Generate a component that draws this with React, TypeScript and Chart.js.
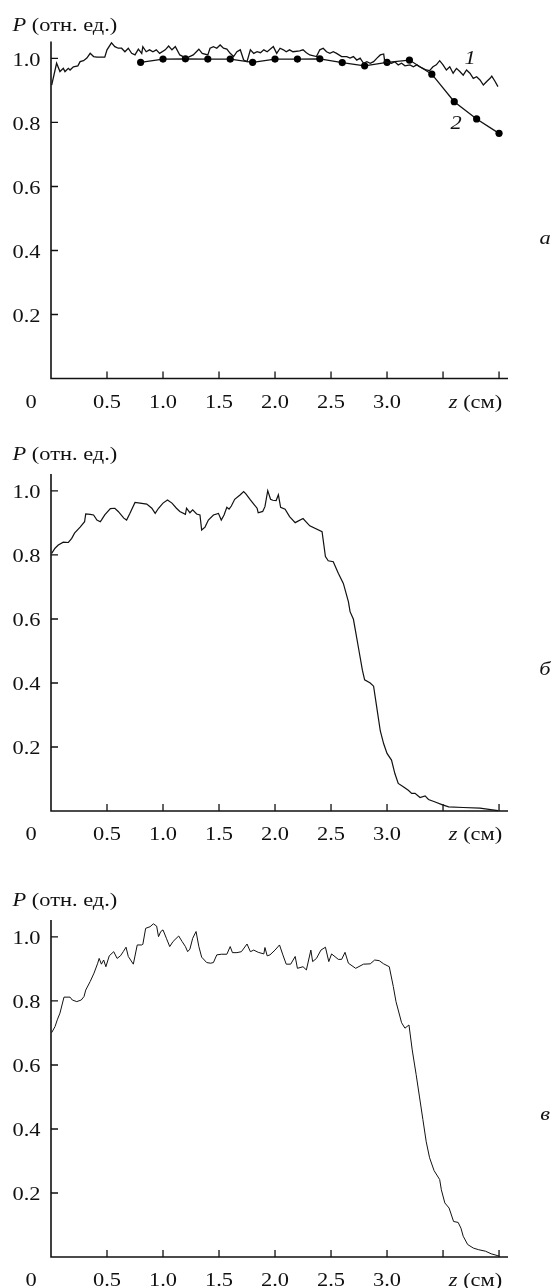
import React, { useEffect, useRef } from "react";
import { Chart, registerables } from "chart.js";

Chart.register(...registerables);

// ---------- axes ----------
const X_MIN = 0;
const X_MAX = 4.08;
const Y_MIN = 0;
const Y_MAX = 1.053;
const xTickValues = [0.5, 1.0, 1.5, 2.0, 2.5, 3.0, 3.5, 4.0];
const xTickLabels = ["0.5", "1.0", "1.5", "2.0", "2.5", "3.0", "", ""];
const yTickValues = [0.2, 0.4, 0.6, 0.8, 1.0];
const yTickLabels = ["0.2", "0.4", "0.6", "0.8", "1.0"];
const originLabel = "0";
const xAxisTitleItalic = "z";
const xAxisTitleRest = " (см)";
const yAxisTitleItalic = "P";
const yAxisTitleRest = " (отн. ед.)";
const panelLetters = ["а", "б", "в"];
const curveLabels = ["1", "2"];

// ---------- panel a, curve 1 ----------
const aCurve1X = [
  0.006, 0.05, 0.08, 0.11, 0.125, 0.155, 0.17, 0.2, 0.24, 0.26, 0.29, 0.32, 0.35, 0.38, 0.41, 0.48,
  0.5, 0.54, 0.57, 0.6, 0.63, 0.66, 0.69, 0.72, 0.75, 0.78, 0.81, 0.82, 0.85, 0.88, 0.91, 0.94,
  0.97, 1.02, 1.05, 1.08, 1.11, 1.15, 1.18, 1.21, 1.27, 1.32, 1.35, 1.4, 1.42, 1.45, 1.48, 1.51,
  1.54, 1.57, 1.6, 1.63, 1.66, 1.69, 1.72, 1.75, 1.78, 1.81, 1.84, 1.87, 1.9, 1.93, 1.985, 2.015,
  2.045, 2.075, 2.1, 2.13, 2.16, 2.22, 2.25, 2.28, 2.31, 2.37, 2.4, 2.43, 2.46, 2.49, 2.52, 2.55,
  2.595, 2.64, 2.67, 2.7, 2.73, 2.76, 2.79, 2.82, 2.85, 2.88, 2.91, 2.94, 2.97, 2.98, 3.01, 3.04,
  3.07, 3.1, 3.13, 3.16, 3.205, 3.235, 3.265, 3.29, 3.32, 3.35, 3.38, 3.41, 3.44, 3.47, 3.5, 3.53,
  3.56, 3.59, 3.62, 3.65, 3.68, 3.71, 3.74, 3.77, 3.8, 3.83, 3.86, 3.89, 3.92, 3.935, 3.965, 3.99,
];
const aCurve1Y = [
  0.917, 0.985, 0.959, 0.969, 0.959, 0.969, 0.964, 0.974, 0.977, 0.99, 0.993, 1.001, 1.016, 1.006, 1.004, 1.004,
  1.027, 1.049, 1.037, 1.032, 1.032, 1.021, 1.032, 1.016, 1.011, 1.029, 1.016, 1.037, 1.021, 1.027, 1.021, 1.027,
  1.016, 1.027, 1.039, 1.027, 1.037, 1.011, 1.006, 1.001, 1.011, 1.029, 1.016, 1.011, 1.032, 1.037, 1.032, 1.042,
  1.032, 1.029, 1.016, 1.006, 1.021, 1.027, 0.995, 0.99, 1.027, 1.016, 1.021, 1.018, 1.027, 1.021, 1.037, 1.016,
  1.032, 1.027, 1.021, 1.027, 1.021, 1.024, 1.027, 1.018, 1.011, 1.006, 1.027, 1.032, 1.021, 1.016, 1.021, 1.016,
  1.006, 1.006, 1.001, 1.006, 0.995, 1.001, 0.985, 0.99, 0.985, 0.99, 1.001, 1.011, 1.014, 0.99, 0.987, 0.985,
  0.99, 0.98, 0.985, 0.977, 0.98, 0.974, 0.98, 0.974, 0.969, 0.964, 0.962, 0.974, 0.98, 0.993, 0.98, 0.964,
  0.974, 0.954, 0.969, 0.959, 0.948, 0.964, 0.954, 0.938, 0.943, 0.933, 0.917, 0.928, 0.938, 0.945, 0.928, 0.912,
];

// ---------- panel a, curve 2 (dots) ----------
const aCurve2X = [0.8, 1.0, 1.2, 1.4, 1.6, 1.8, 2.0, 2.2, 2.4, 2.6, 2.8, 3.0, 3.2, 3.4, 3.6, 3.8, 4.0];
const aCurve2Y = [0.988, 0.998, 0.999, 0.998, 0.998, 0.988, 0.998, 0.998, 0.999, 0.987, 0.977, 0.988, 0.995, 0.951, 0.865, 0.811, 0.766];

// ---------- panel б ----------
const bCurveX = [
  0.006, 0.036, 0.065, 0.11, 0.155, 0.185, 0.21, 0.26, 0.3, 0.31, 0.35, 0.38, 0.41, 0.44, 0.45, 0.48,
  0.53, 0.57, 0.6, 0.65, 0.675, 0.705, 0.75, 0.795, 0.855, 0.9, 0.93, 0.96, 1.0, 1.04, 1.08, 1.12,
  1.15, 1.2, 1.21, 1.24, 1.265, 1.3, 1.33, 1.345, 1.375, 1.405, 1.45, 1.495, 1.52, 1.545, 1.57, 1.59,
  1.61, 1.64, 1.69, 1.72, 1.74, 1.78, 1.81, 1.84, 1.85, 1.89, 1.91, 1.935, 1.96, 1.98, 2.01, 2.03,
  2.05, 2.09, 2.13, 2.18, 2.25, 2.31, 2.42, 2.45, 2.475, 2.52, 2.565, 2.61, 2.655, 2.67, 2.7, 2.72,
  2.75, 2.78, 2.8, 2.85, 2.88, 2.91, 2.94, 2.97, 3.0, 3.04, 3.07, 3.1, 3.145, 3.19, 3.22, 3.25,
  3.295, 3.34, 3.37, 3.43, 3.49, 3.55, 3.68, 3.83, 3.99,
];
const bCurveY = [
  0.805, 0.821, 0.831, 0.84, 0.839, 0.852, 0.868, 0.887, 0.904, 0.928, 0.927, 0.925, 0.909, 0.904, 0.909, 0.925,
  0.945, 0.946, 0.936, 0.915, 0.909, 0.93, 0.964, 0.962, 0.959, 0.946, 0.93, 0.946, 0.962, 0.972, 0.962, 0.946,
  0.936, 0.927, 0.946, 0.932, 0.941, 0.928, 0.925, 0.878, 0.887, 0.909, 0.925, 0.93, 0.909, 0.925, 0.949, 0.943,
  0.953, 0.974, 0.988, 0.998, 0.991, 0.972, 0.959, 0.946, 0.932, 0.936, 0.951, 1.001, 0.974, 0.971, 0.97, 0.988,
  0.949, 0.943, 0.92, 0.901, 0.914, 0.891, 0.873, 0.795, 0.782, 0.779, 0.743, 0.711, 0.654, 0.623, 0.599, 0.56,
  0.5, 0.44, 0.41, 0.4, 0.39, 0.32, 0.25, 0.21, 0.18, 0.159, 0.117, 0.086, 0.076, 0.065, 0.055, 0.055,
  0.042, 0.047, 0.036, 0.028, 0.02, 0.013, 0.011, 0.009, 0.001,
];

// ---------- panel в ----------
const cCurveX = [
  0.006, 0.036, 0.056, 0.08, 0.116, 0.17, 0.19, 0.23, 0.27, 0.295, 0.31, 0.35, 0.384, 0.417, 0.43, 0.45,
  0.47, 0.49, 0.52, 0.56, 0.59, 0.62, 0.645, 0.67, 0.69, 0.735, 0.77, 0.81, 0.82, 0.845, 0.884, 0.914,
  0.943, 0.96, 0.98, 1.0, 1.03, 1.06, 1.09, 1.14, 1.17, 1.2, 1.22, 1.24, 1.265, 1.295, 1.32, 1.345,
  1.39, 1.425, 1.45, 1.48, 1.52, 1.57, 1.6, 1.62, 1.66, 1.7, 1.75, 1.78, 1.81, 1.85, 1.9, 1.91,
  1.93, 1.955, 2.0, 2.04, 2.07, 2.1, 2.14, 2.18, 2.2, 2.25, 2.28, 2.32, 2.336, 2.37, 2.41, 2.45,
  2.48, 2.505, 2.565, 2.595, 2.625, 2.655, 2.72, 2.79, 2.85, 2.89, 2.93, 2.97, 3.02, 3.056, 3.08, 3.13,
  3.16, 3.196, 3.225, 3.26, 3.29, 3.32, 3.35, 3.38, 3.42, 3.47, 3.485, 3.516, 3.554, 3.594, 3.635, 3.66,
  3.68, 3.72, 3.77, 3.815, 3.88, 3.93, 3.99, 4.006,
];
const cCurveY = [
  0.701, 0.72, 0.741, 0.762, 0.812, 0.812, 0.803, 0.798, 0.803, 0.814, 0.834, 0.861, 0.887, 0.918, 0.933, 0.915,
  0.928, 0.907, 0.941, 0.954, 0.933, 0.941, 0.954, 0.968, 0.939, 0.915, 0.975, 0.975, 0.977, 1.027, 1.032, 1.041,
  1.034, 1.001, 1.017, 1.022, 0.996, 0.97, 0.986, 1.003, 0.986, 0.97, 0.954, 0.962, 0.996, 1.017, 0.97, 0.937,
  0.92, 0.918, 0.92, 0.944, 0.946, 0.946, 0.97, 0.951, 0.951, 0.954, 0.978, 0.954, 0.959, 0.952, 0.947, 0.967,
  0.941, 0.944, 0.959, 0.975, 0.944, 0.915, 0.915, 0.939, 0.902, 0.907, 0.897, 0.959, 0.923, 0.933, 0.959, 0.968,
  0.923, 0.947, 0.93, 0.93, 0.952, 0.918, 0.902, 0.915, 0.916, 0.928, 0.926, 0.916, 0.907, 0.845, 0.798, 0.732,
  0.715, 0.725, 0.647, 0.57, 0.5, 0.43, 0.36, 0.31, 0.27, 0.242, 0.21, 0.169, 0.153, 0.111, 0.108, 0.09,
  0.065, 0.039, 0.028, 0.023, 0.018, 0.01, 0.004, 0.002,
];

// ---------- styling / layout ----------
const FONT_FAMILY = "'Liberation Serif', 'Times New Roman', serif";
const FONT_SIZE = 19;
const TEXT_SX = 1.18;
const PAGE_W = 553;
const PLOT_LEFT = 51;
const PLOT_RIGHT = 508;

type Part = { text: string; italic?: boolean };

function font(italic?: boolean) {
  return `${italic ? "italic " : ""}${FONT_SIZE}px ${FONT_FAMILY}`;
}

function drawParts(ctx: CanvasRenderingContext2D, parts: Part[], x: number, baseline: number, align: "left" | "center" | "right") {
  ctx.save();
  ctx.textBaseline = "alphabetic";
  ctx.textAlign = "left";
  ctx.fillStyle = "#111";
  const widths = parts.map((p) => {
    ctx.font = font(p.italic);
    return ctx.measureText(p.text).width * TEXT_SX;
  });
  const total = widths.reduce((a, b) => a + b, 0);
  let sx = align === "left" ? x : align === "center" ? x - total / 2 : x - total;
  parts.forEach((p, i) => {
    ctx.save();
    ctx.translate(sx, baseline);
    ctx.scale(TEXT_SX, 1);
    ctx.font = font(p.italic);
    ctx.fillText(p.text, 0, 0);
    ctx.restore();
    sx += widths[i];
  });
  ctx.restore();
}

type PanelDef = {
  canvasTop: number;
  height: number;
  plotTop: number;
  plotBottom: number;
  titleBaseline: number;
  letterBaseline: number;
  letter: string;
  datasets: any[];
  curveLabels?: { text: string; x: number; baseline: number }[];
};

function toPoints(xs: number[], ys: number[]) {
  return xs.map((x, i) => ({ x, y: ys[i] }));
}

const panels: PanelDef[] = [
  {
    canvasTop: 0,
    height: 430,
    plotTop: 41.5,
    plotBottom: 378.5,
    titleBaseline: 30.5,
    letterBaseline: 244,
    letter: panelLetters[0],
    datasets: [
      { data: toPoints(aCurve1X, aCurve1Y), borderWidth: 1.3, pointRadius: 0 },
      {
        data: toPoints(aCurve2X, aCurve2Y),
        borderWidth: 1.3,
        pointRadius: 3.6,
        pointBackgroundColor: "#000",
        pointBorderColor: "#000",
        pointBorderWidth: 0,
      },
    ],
    curveLabels: [
      { text: curveLabels[0], x: 470, baseline: 64 },
      { text: curveLabels[1], x: 456, baseline: 129 },
    ],
  },
  {
    canvasTop: 430,
    height: 430,
    plotTop: 474,
    plotBottom: 811,
    titleBaseline: 460,
    letterBaseline: 675,
    letter: panelLetters[1],
    datasets: [{ data: toPoints(bCurveX, bCurveY), borderWidth: 1.2, pointRadius: 0 }],
  },
  {
    canvasTop: 860,
    height: 428,
    plotTop: 920,
    plotBottom: 1257,
    titleBaseline: 905.5,
    letterBaseline: 1120,
    letter: panelLetters[2],
    datasets: [{ data: toPoints(cCurveX, cCurveY), borderWidth: 1.0, pointRadius: 0 }],
  },
];

function makeAxesPlugin(p: PanelDef) {
  return {
    id: "figureAxes",
    afterDraw(chart: any) {
      const ctx: CanvasRenderingContext2D = chart.ctx;
      const xs = chart.scales.x;
      const ys = chart.scales.y;
      const area = chart.chartArea;
      const off = p.canvasTop;
      ctx.save();
      ctx.strokeStyle = "#111";
      ctx.lineWidth = 1.6;
      ctx.lineCap = "butt";
      ctx.beginPath();
      ctx.moveTo(area.left, area.top);
      ctx.lineTo(area.left, area.bottom);
      ctx.lineTo(area.right, area.bottom);
      ctx.stroke();
      ctx.lineWidth = 1.3;
      ctx.beginPath();
      yTickValues.forEach((v) => {
        const py = ys.getPixelForValue(v);
        ctx.moveTo(area.left, py);
        ctx.lineTo(area.left + 7, py);
      });
      xTickValues.forEach((v) => {
        const px = xs.getPixelForValue(v);
        ctx.moveTo(px, area.bottom);
        ctx.lineTo(px, area.bottom - 7);
      });
      ctx.stroke();
      ctx.restore();

      yTickValues.forEach((v, i) => {
        const py = ys.getPixelForValue(v);
        drawParts(ctx, [{ text: yTickLabels[i] }], 40.5, py + 7.5, "right");
      });
      const xb = area.bottom + 29;
      xTickValues.forEach((v, i) => {
        if (!xTickLabels[i]) return;
        drawParts(ctx, [{ text: xTickLabels[i] }], xs.getPixelForValue(v), xb, "center");
      });
      drawParts(ctx, [{ text: originLabel }], 31, xb, "center");
      drawParts(ctx, [{ text: xAxisTitleItalic, italic: true }, { text: xAxisTitleRest }], 475.5, xb, "center");
      drawParts(ctx, [{ text: yAxisTitleItalic, italic: true }, { text: yAxisTitleRest }], 12.5, p.titleBaseline - off, "left");
      drawParts(ctx, [{ text: p.letter, italic: true }], 545, p.letterBaseline - off, "center");
      (p.curveLabels || []).forEach((c) => {
        drawParts(ctx, [{ text: c.text, italic: true }], c.x, c.baseline - off, "center");
      });
    },
  };
}

function Panel({ def }: { def: PanelDef }) {
  const ref = useRef<HTMLCanvasElement | null>(null);
  useEffect(() => {
    if (!ref.current) return;
    const chart = new Chart(ref.current, {
      type: "scatter",
      data: {
        datasets: def.datasets.map((d) => ({
          showLine: true,
          borderColor: "#111",
          backgroundColor: "#000",
          tension: 0,
          fill: false,
          clip: false,
          pointHoverRadius: 0,
          ...d,
        })),
      },
      options: {
        responsive: false,
        animation: false,
        devicePixelRatio: 1,
        events: [],
        layout: {
          padding: {
            left: PLOT_LEFT,
            right: PAGE_W - PLOT_RIGHT,
            top: def.plotTop - def.canvasTop,
            bottom: def.canvasTop + def.height - def.plotBottom,
          },
        },
        scales: {
          x: { type: "linear", min: X_MIN, max: X_MAX, display: false },
          y: { type: "linear", min: Y_MIN, max: Y_MAX, display: false },
        },
        plugins: { legend: { display: false }, tooltip: { enabled: false }, title: { display: false } },
      } as any,
      plugins: [makeAxesPlugin(def)],
    });
    return () => chart.destroy();
  }, [def]);
  return (
    <canvas
      ref={ref}
      width={PAGE_W}
      height={def.height}
      style={{ position: "absolute", left: 0, top: def.canvasTop, width: PAGE_W, height: def.height }}
    />
  );
}

export default function App() {
  return (
    <div style={{ position: "absolute", left: 0, top: 0, width: PAGE_W, height: 1288, background: "#fff" }}>
      {panels.map((p, i) => (
        <Panel key={i} def={p} />
      ))}
    </div>
  );
}
